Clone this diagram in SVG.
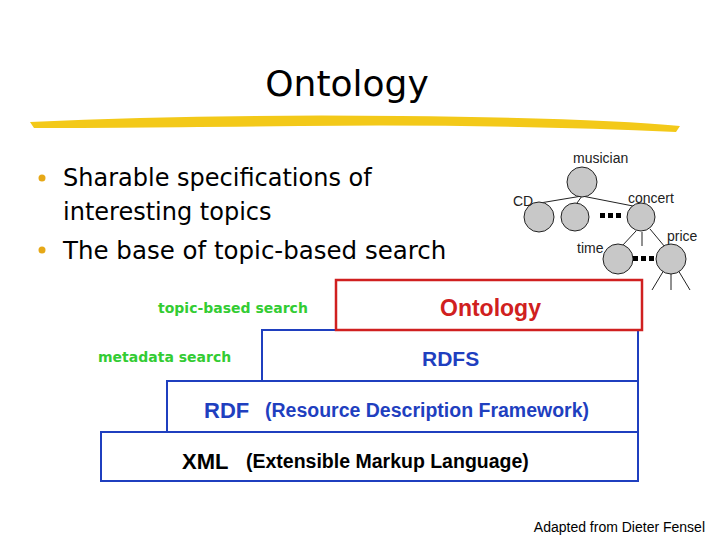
<svg xmlns="http://www.w3.org/2000/svg" width="720" height="540" viewBox="0 0 720 540">
<style>
.n{fill:#c8c8c8;stroke:#222;stroke-width:1}
.l{stroke:#222;stroke-width:1}
.t{font-family:"Liberation Sans",Arial,sans-serif;font-size:14px;fill:#222}
.b{fill:#fff;stroke:#1f3fbf;stroke-width:2}
.lab{font-family:"Liberation Sans",Arial,sans-serif;font-weight:bold}
.g{font-family:Verdana,"DejaVu Sans",sans-serif;font-weight:bold;fill:#3c3}
</style>
<rect width="720" height="540" fill="#fff"/>
<text x="347" y="96" text-anchor="middle" font-family="Verdana,'DejaVu Sans',sans-serif" font-size="36" fill="#000">Ontology</text>
<path d="M30 122 Q200 114 400 116 T680 126 L676 132 Q500 124 300 126 T34 128 Z" fill="#f3c919"/>
<g font-family="Verdana,'DejaVu Sans',sans-serif" font-size="24" fill="#000">
<circle cx="42" cy="178" r="3.5" fill="#e6a817"/><text x="63" y="186">Sharable specifications of</text>
<text x="63" y="220">interesting topics</text>
<circle cx="42" cy="250" r="3.5" fill="#e6a817"/><text x="63" y="259" font-size="24.5">The base of topic-based search</text>
</g>
<g id="connectors">
<line class="l" x1="582" y1="196" x2="540" y2="203"/>
<line class="l" x1="582" y1="196" x2="577" y2="203"/>
<line class="l" x1="582" y1="196" x2="633" y2="206"/>
<line class="l" x1="636" y1="231" x2="622" y2="246"/>
<line class="l" x1="642" y1="232" x2="642" y2="246"/>
<line class="l" x1="650" y1="229" x2="665" y2="247"/>
<line class="l" x1="664" y1="270" x2="652" y2="290"/>
<line class="l" x1="671" y1="274" x2="671" y2="290"/>
<line class="l" x1="678" y1="270" x2="690" y2="290"/>
</g>
<g id="tree">
<circle class="n" cx="582" cy="182" r="15"/>
<circle class="n" cx="539" cy="217" r="15"/>
<circle class="n" cx="575" cy="217" r="14"/>
<circle class="n" cx="641" cy="217" r="14"/>
<circle class="n" cx="618" cy="259" r="15"/>
<circle class="n" cx="671" cy="259" r="15"/>
<text class="t" x="573" y="163">musician</text>
<text class="t" x="513" y="206">CD</text>
<text class="t" x="628" y="203">concert</text>
<text class="t" x="667" y="241">price</text>
<text class="t" x="577" y="253">time</text>
<g fill="#000"><rect x="600" y="213" width="5" height="5"/><rect x="608" y="213" width="5" height="5"/><rect x="616" y="213" width="5" height="5"/>
<rect x="633" y="256" width="5" height="5"/><rect x="641" y="256" width="5" height="5"/><rect x="649" y="256" width="5" height="5"/></g>
</g>
<g id="xml"><rect class="b" x="101" y="432" width="537" height="49"/>
<text class="lab" x="182" y="469" font-size="22" font-weight="normal" fill="#000">XML</text>
<text class="lab" x="246" y="468" font-size="19.5" fill="#000">(Extensible Markup Language)</text></g>
<g id="rdf"><rect class="b" x="167" y="381" width="471" height="51"/>
<text class="lab" x="204" y="418" font-size="22" font-weight="normal" fill="#1f3fbf">RDF</text>
<text class="lab" x="265" y="417" font-size="19.5" fill="#1f3fbf">(Resource Description Framework)</text></g>
<g id="rdfs"><rect class="b" x="262" y="330" width="376" height="51"/>
<text class="lab" x="422" y="366" font-size="21" fill="#1f3fbf">RDFS</text></g>
<g id="ontology"><rect x="336" y="280" width="306" height="50" fill="#fff" stroke="#d02020" stroke-width="2.5"/>
<text class="lab" x="440" y="316" font-size="23" fill="#d02020">Ontology</text></g>
<text class="g" x="158" y="313" font-size="14">topic-based search</text>
<text class="g" x="98" y="362" font-size="14">metadata search</text>
<text x="705" y="532" text-anchor="end" font-family="'Liberation Sans',Arial,sans-serif" font-size="14" fill="#000">Adapted from Dieter Fensel</text>
</svg>
